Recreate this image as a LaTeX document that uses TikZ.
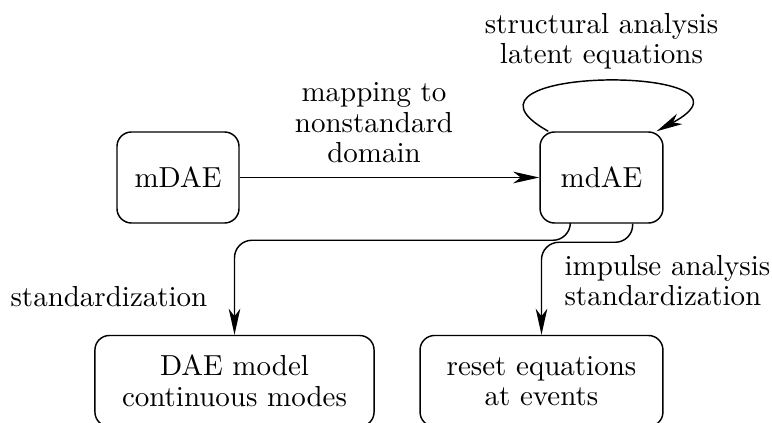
\documentclass[tikz,border=0pt]{standalone}
\usetikzlibrary{arrows.meta,calc}

\tikzset{
  modelbox/.style={draw, rounded corners=5pt, line width=0.5pt, align=center, inner sep=0pt,
    minimum height=31.4pt, font=\fontsize{10}{10.5}\selectfont},
  lbl/.style={align=center, inner sep=0pt, font=\fontsize{10}{10.5}\selectfont},
  flow/.style={line width=0.5pt, -{Stealth[length=9pt,width=4pt,inset=2.6pt]}},
}

\begin{document}
\begin{tikzpicture}[x=0.345pt,y=0.345pt,yscale=-1,xscale=1]
%set diagram frame to the reference size
\useasboundingbox (0,0) rectangle (772,423);

%Rounded Rect
\node[modelbox, minimum width=42.1pt] (mDAE) at (178,177.5) {mDAE};
%Rounded Rect
\node[modelbox, minimum width=42.4pt] (mdAE) at (601.5,177.5) {mdAE};
%Rounded Rect
\node[modelbox, minimum width=96.3pt] (dae) at (234.5,381) {DAE model\\continuous modes};
%Rounded Rect
\node[modelbox, minimum width=83.8pt] (reset) at (541.5,381) {reset equations\\at events};

% Text Node
\node[lbl] (mapLbl) at (374,123) {mapping to\\nonstandard\\domain};
% Text Node
\node[lbl] (structLbl) at (601.5,41) {structural analysis\\latent equations};
% Text Node
\node[lbl, anchor=west] (stdLbl) at (10,297) {standardization};
% Text Node
\node[lbl, anchor=west, align=left] (impLbl) at (564,280.5) {impulse analysis\\standardization};

%Straight Lines
\draw[flow] (mDAE) -- (mdAE);
%Curve Lines
\draw[flow] (mdAE.139) .. controls +(-120,-67) and +(125,-67) .. (mdAE.40);
%Curve Lines
\draw[flow, rounded corners=6pt] (mdAE.-124) |- ($(dae.north)+(0,-94.5)$) -- (dae.north);
%Curve Lines
\draw[flow, rounded corners=6pt] (mdAE.-56) |- ($(reset.north)+(0,-92.5)$) -- (reset.north);

\end{tikzpicture}
\end{document}
